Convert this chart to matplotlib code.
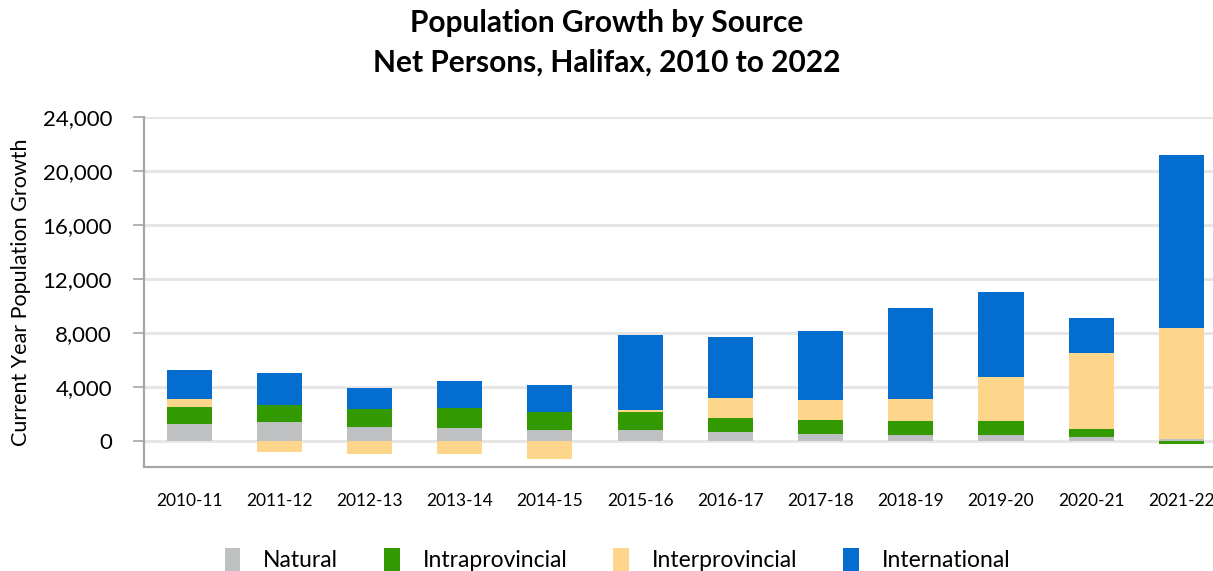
import matplotlib
matplotlib.use("Agg")
import matplotlib.pyplot as plt
from matplotlib.patches import Patch
from matplotlib.ticker import FuncFormatter
import numpy as np

# data (net persons)
years = ["2010-11", "2011-12", "2012-13", "2013-14", "2014-15", "2015-16",
         "2016-17", "2017-18", "2018-19", "2019-20", "2020-21", "2021-22"]
natural = [1220, 1370, 1070, 930, 780, 780, 630, 480, 440, 440, 300, 180]
intraprovincial = [1330, 1330, 1330, 1480, 1330, 1330, 1040, 1040, 1040, 1040, 590, -250]
interprovincial = [590, -850, -1000, -1000, -1300, 150, 1480, 1480, 1630, 3260, 5630, 8220]
international = [2150, 2300, 1560, 2000, 2000, 5560, 4520, 5110, 6740, 6300, 2590, 12810]

series_names = ["Natural", "Intraprovincial", "Interprovincial", "International"]
series_colors = ["#BFC0C2", "#339900", "#FDD58B", "#036ECF"]

plt.rcParams["font.family"] = ["Lato", "DejaVu Sans"]

fig = plt.figure(figsize=(12.13, 5.71), dpi=100)
ax = fig.add_axes([0.1187, 0.1821, 0.8813, 0.6130])

x = np.arange(len(years))
pos_base = np.zeros(len(years))
neg_base = np.zeros(len(years))
for vals, name, col in zip([natural, intraprovincial, interprovincial, international],
                           series_names, series_colors):
    v = np.array(vals, dtype=float)
    bottom = np.where(v >= 0, pos_base, neg_base)   # positives stack up, negatives stack down
    ax.bar(x, v, bottom=bottom, width=0.5, color=col, label=name, zorder=3)
    pos_base += np.where(v >= 0, v, 0)
    neg_base += np.where(v < 0, v, 0)

ax.set_xlim(-0.5, 11.35)
ax.set_ylim(-1930, 24000)
ax.set_yticks(np.arange(0, 24001, 4000))
ax.yaxis.set_major_formatter(FuncFormatter(lambda v, p: f"{int(v):,}"))
ax.set_xticks(x)
ax.set_xticklabels(years, fontsize=12.5)
ax.tick_params(axis="x", length=0, pad=19)
ax.tick_params(axis="y", length=8, width=1.2, color="#A6A6A6", labelsize=16, pad=15)

ax.grid(axis="y", color="#E6E6E6", linewidth=2.2, zorder=0)
for s in ["top", "right"]:
    ax.spines[s].set_visible(False)
for s in ["left", "bottom"]:
    ax.spines[s].set_color("#A6A6A6")
    ax.spines[s].set_linewidth(1.6)

ax.set_ylabel("Current Year Population Growth", fontsize=15.5, labelpad=8)

fig.text(0.5, 0.96, "Population Growth by Source", ha="center", va="center",
         fontsize=21.5, fontweight="bold")
fig.text(0.5, 0.89, "Net Persons, Halifax, 2010 to 2022", ha="center", va="center",
         fontsize=21.5, fontweight="bold")

handles = [Patch(facecolor=c, edgecolor="none") for c in series_colors]
fig.legend(handles, series_names, loc="center", bbox_to_anchor=(0.509, 0.02),
           ncol=4, frameon=False, fontsize=16.5, handlelength=0.68, handleheight=1.2,
           handletextpad=1.0, columnspacing=2.0)

fig.savefig("out.png", dpi=100)
